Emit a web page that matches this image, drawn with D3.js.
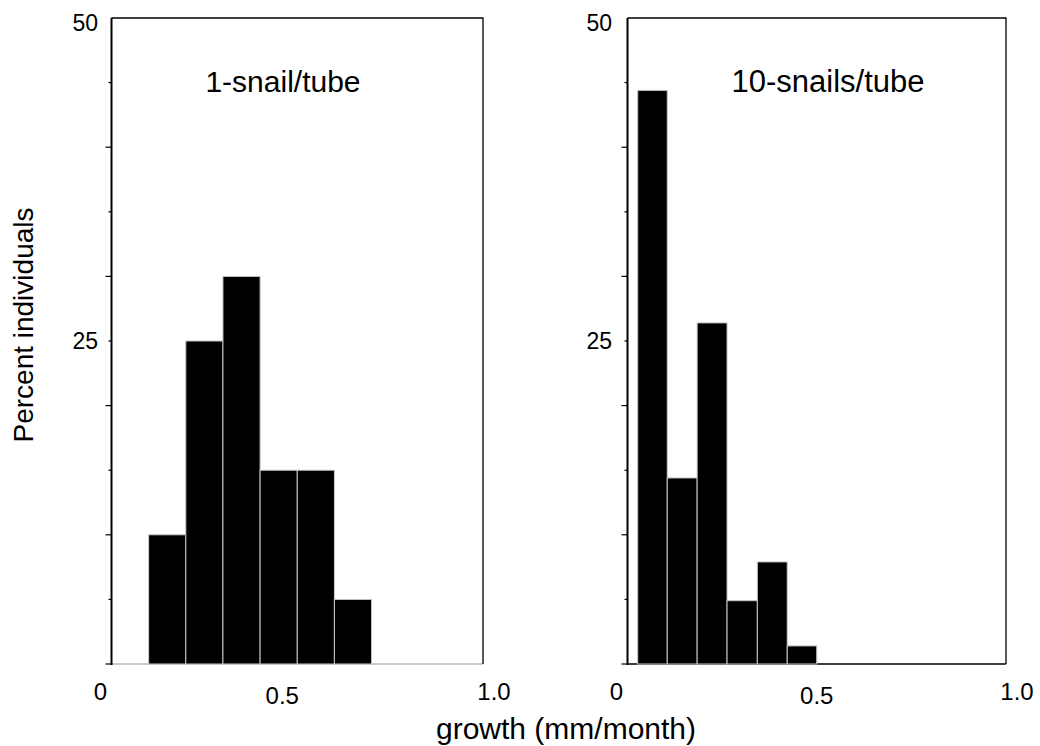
<!doctype html>
<html>
<head>
<style>
  body { margin: 0; background: #fff; }
  text { font-family: "Liberation Sans", Arial, sans-serif; fill: #000; }
</style>
<script src="https://d3js.org/d3.v7.min.js"></script>
</head>
<body>
<svg width="1040" height="746"></svg>
<script>
// growth bins (mm/month) and percent of individuals
var oneSnailBins = [0.1, 0.2, 0.3, 0.4, 0.5, 0.6, 0.7];
var oneSnailPct = [10, 25, 30, 15, 15, 5];

var tenSnailBins = [0.027, 0.105, 0.184, 0.263, 0.343, 0.422, 0.5];
var tenSnailPct = [44.4, 14.4, 26.4, 4.9, 7.9, 1.4];

var xTickValues = [0, 0.5, 1];
var xTickLabels = ["0", "0.5", "1.0"];
var yTickValues = [0, 5, 10, 15, 20, 25, 30, 35, 40, 45];
var yLabelValues = [25, 50];

var svg = d3.select("svg");
var plotTop = 18, plotBottom = 664;

var y = d3.scaleLinear().domain([0, 50]).range([plotBottom, plotTop]);

var panels = [
  { title: "1-snail/tube", bins: oneSnailBins, pct: oneSnailPct, x0: 111.5, x1: 483,
    titleX: 283, titleSize: 30, baseColor: "#bbb", midShift: -15, yLabX: 98 },
  { title: "10-snails/tube", bins: tenSnailBins, pct: tenSnailPct, x0: 627.5, x1: 1006,
    titleX: 828, titleSize: 31, baseColor: "#000", midShift: 0, yLabX: 612 }
];

panels.forEach(function(p) {
  var x = d3.scaleLinear().domain([0, 1]).range([p.x0, p.x1]);
  var lab = d3.scaleLinear().domain([0, 1]).range([p.x0 - 11, p.x1 + 11]);
  var g = svg.append("g");

  // baseline
  g.append("line")
    .attr("x1", x(0)).attr("x2", x(1))
    .attr("y1", y(0)).attr("y2", y(0))
    .attr("stroke", p.baseColor).attr("stroke-width", 1.5);

  // bars
  var data = p.pct.map(function(v, i) { return { x0: p.bins[i], x1: p.bins[i + 1], v: v }; });
  g.selectAll(".bar").data(data).enter().append("rect")
    .attr("class", "bar")
    .attr("x", function(d) { return x(d.x0); })
    .attr("width", function(d) { return x(d.x1) - x(d.x0); })
    .attr("y", function(d) { return y(d.v); })
    .attr("height", function(d) { return y(0) - y(d.v); })
    .attr("fill", "#000")
    .attr("stroke", "#c8c8c8")
    .attr("stroke-width", 1);

  // frame: top and right
  g.append("path")
    .attr("d", "M" + x(0) + "," + y(50) + "H" + x(1) + "V" + y(0))
    .attr("fill", "none").attr("stroke", "#000").attr("stroke-width", 1.3);

  // left axis
  g.append("line")
    .attr("x1", x(0)).attr("x2", x(0))
    .attr("y1", y(50)).attr("y2", y(0) + 1)
    .attr("stroke", "#000").attr("stroke-width", 2);

  g.selectAll(".ytick").data(yTickValues).enter().append("line")
    .attr("x1", function(d) { return x(0) - (d % 10 === 0 ? 6 : 3); })
    .attr("x2", x(0))
    .attr("y1", function(d) { return y(d); })
    .attr("y2", function(d) { return y(d); })
    .attr("stroke", "#000").attr("stroke-width", 1.2);

  g.selectAll(".ylab").data(yLabelValues).enter().append("text")
    .attr("x", p.yLabX)
    .attr("y", function(d) { return d === 50 ? y(d) + 13 : y(d) + 8; })
    .attr("text-anchor", "end")
    .attr("font-size", 23)
    .text(function(d) { return d; });

  g.selectAll(".xlab").data(xTickValues).enter().append("text")
    .attr("x", function(d, i) { return lab(d) + (i === 1 ? p.midShift : 0); })
    .attr("y", function(d, i) { return i === 1 ? 704 : 700; })
    .attr("text-anchor", "middle")
    .attr("font-size", 24)
    .text(function(d, i) { return xTickLabels[i]; });

  g.append("text")
    .attr("x", p.titleX).attr("y", 92)
    .attr("text-anchor", "middle")
    .attr("font-size", p.titleSize)
    .text(p.title);
});

svg.append("text")
  .attr("x", 566).attr("y", 739)
  .attr("text-anchor", "middle")
  .attr("font-size", 30)
  .text("growth (mm/month)");

svg.append("text")
  .attr("transform", "translate(33,325) rotate(-90)")
  .attr("text-anchor", "middle")
  .attr("font-size", 28)
  .text("Percent individuals");
</script>
</body>
</html>
